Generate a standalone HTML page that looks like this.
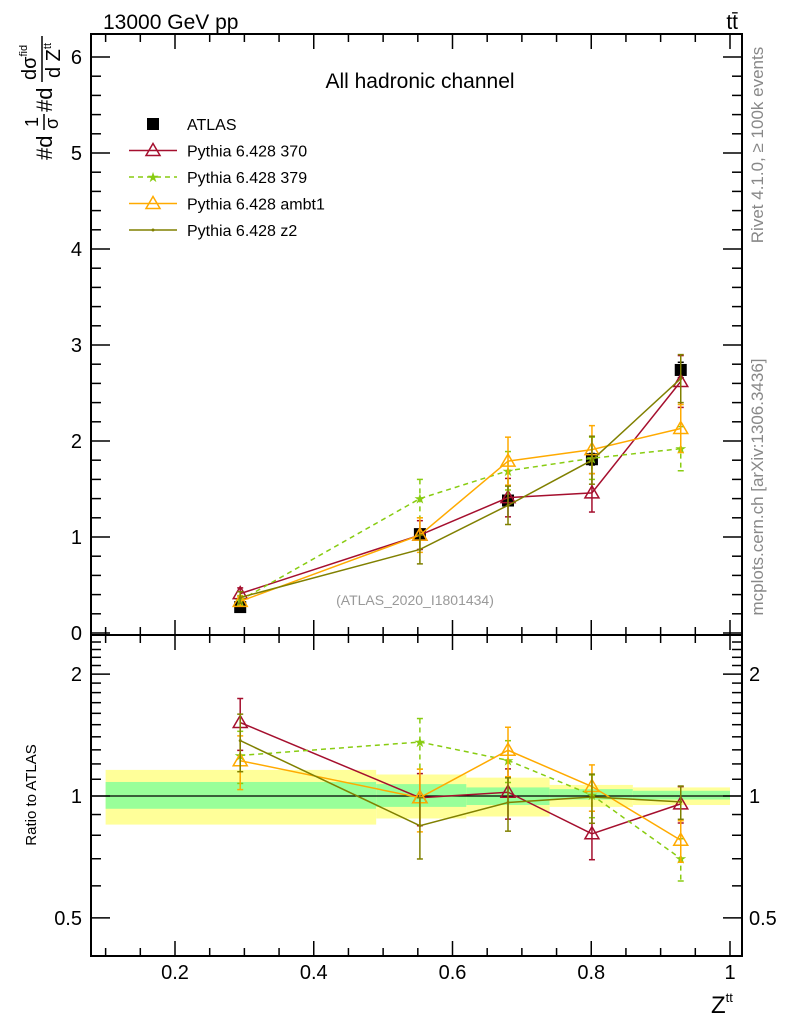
<!DOCTYPE html>
<html><head><meta charset="utf-8"><style>
body{margin:0;background:#fff;}
svg{display:block;font-family:"Liberation Sans",sans-serif;}
</style></head><body>
<svg id="chart" width="786" height="1024" viewBox="0 0 786 1024" xmlns="http://www.w3.org/2000/svg">
<g id="bands"></g>
<g id="ticks"></g>
<g id="series"></g>
<rect x="91" y="34" width="651" height="601" fill="none" stroke="#000" stroke-width="2"/>
<rect x="91" y="635" width="651" height="321" fill="none" stroke="#000" stroke-width="2"/>
<text x="103" y="29" font-size="21">13000 GeV pp</text>
<text x="738" y="29" font-size="21" text-anchor="end">tt̄</text>
<text x="420" y="88" font-size="21" text-anchor="middle">All hadronic channel</text>
<text x="415" y="605" font-size="14" fill="#999" text-anchor="middle">(ATLAS_2020_I1801434)</text>
<text transform="translate(763,145) rotate(-90)" font-size="17" fill="#888" text-anchor="middle">Rivet 4.1.0, ≥ 100k events</text>
<text transform="translate(763,487) rotate(-90)" font-size="17" fill="#888" text-anchor="middle">mcplots.cern.ch [arXiv:1306.3436]</text>
<g transform="translate(0,160) rotate(-90)">
<text x="0" y="52" font-size="22">#d</text>
<text x="33" y="38" font-size="18">1</text>
<line x1="30" y1="44" x2="46" y2="44" stroke="#000" stroke-width="1.5"/>
<text x="31" y="58" font-size="18">σ</text>
<text x="48" y="52" font-size="22">#d</text>
<text x="80" y="36" font-size="20">dσ<tspan font-size="11" dy="-9">fid</tspan></text>
<line x1="78" y1="42" x2="124" y2="42" stroke="#000" stroke-width="1.5"/>
<text x="82" y="60" font-size="20">d Z<tspan font-size="11" dy="-9">tt</tspan></text>
</g>
<text transform="translate(36,795) rotate(-90)" font-size="15" text-anchor="middle">Ratio to ATLAS</text>
<text x="711" y="1013" font-size="24">Z<tspan font-size="13" dy="-11">tt</tspan></text>
<g id="legend"></g>
</svg>
<script>
const xs = [0.294, 0.553, 0.68, 0.801, 0.929];
const atlas = [0.27, 1.03, 1.38, 1.81, 2.74];
const atlasErr = [0.02, 0.04, 0.05, 0.06, 0.08];
const p370 = [0.41, 1.02, 1.41, 1.46, 2.62];
const p370Err = [0.06, 0.15, 0.2, 0.2, 0.27];
const p379 = [0.34, 1.40, 1.69, 1.82, 1.92];
const p379Err = [0.05, 0.2, 0.2, 0.22, 0.23];
const pambt1 = [0.33, 1.02, 1.79, 1.91, 2.13];
const pambt1Err = [0.05, 0.18, 0.25, 0.25, 0.25];
const pz2 = [0.37, 0.87, 1.33, 1.80, 2.65];
const pz2Err = [0.06, 0.15, 0.2, 0.25, 0.25];
const binEdges = [0.1, 0.49, 0.62, 0.74, 0.86, 1.0];
const yellowHi = [1.16, 1.13, 1.11, 1.065, 1.05];
const yellowLo = [0.85, 0.88, 0.89, 0.94, 0.95];
const greenHi = [1.083, 1.07, 1.05, 1.04, 1.03];
const greenLo = [0.93, 0.94, 0.95, 0.98, 0.98];
const xTicks = [0.2, 0.4, 0.6, 0.8, 1];
const yTicks = [0, 1, 2, 3, 4, 5, 6];
const rTicks = [0.5, 1, 2];

const NS = 'http://www.w3.org/2000/svg';
const X = v => 175 + (v - 0.2) * 693.75;
const Y = v => 633 - v * 96;
const R = v => 796 - Math.log10(v) * 405;
function mk(parent, tag, attrs) {
  const e = document.createElementNS(NS, tag);
  for (const k in attrs) e.setAttribute(k, attrs[k]);
  parent.appendChild(e);
  return e;
}
const bands = document.getElementById('bands');
for (let i = 0; i < 5; i++) {
  const x0 = X(binEdges[i]), x1 = X(binEdges[i + 1]);
  const y = mk(bands, 'rect', {x: x0, y: R(yellowHi[i]), width: x1 - x0, height: R(yellowLo[i]) - R(yellowHi[i]), fill: '#ffff99'});
  
  
  const g = mk(bands, 'rect', {x: x0, y: R(greenHi[i]), width: x1 - x0, height: R(greenLo[i]) - R(greenHi[i]), fill: '#99ff99'});
  
  
}
const one = mk(bands, 'line', {x1: 91, x2: 742, y1: R(1), y2: R(1), stroke: '#000', 'stroke-width': 1.2});



const tk = document.getElementById('ticks');
function tl(x1, y1, x2, y2) { mk(tk, 'line', {x1, y1, x2, y2, stroke: '#000', 'stroke-width': 1.5}); }
for (let v = 0.1; v <= 1.0001; v += 0.05) {
  const x = X(v); const major = Math.abs(v * 10 - Math.round(v * 10)) < 0.01 && Math.round(v * 10) % 2 === 0;
  const L = major ? 14 : 7;
  tl(x, 35, x, 35 + L); tl(x, 634, x, 634 - L);
  tl(x, 955, x, 955 - L); tl(x, 636, x, 636 + L);
}
for (const v of xTicks) {
  const t = mk(tk, 'text', {x: X(v), y: 979, 'font-size': 20, 'text-anchor': 'middle'});
  t.textContent = String(v);
  
  
}
for (let v = 0; v <= 6.2; v += 0.2) {
  const y = Y(v); const major = Math.abs(v - Math.round(v)) < 0.01;
  const L = major ? 18 : 9;
  tl(92, y, 92 + L, y); tl(741, y, 741 - L, y);
}
for (const v of yTicks) {
  const t = mk(tk, 'text', {x: 82, y: Y(v) + 7, 'font-size': 20, 'text-anchor': 'end'});
  t.textContent = String(v);
  
  
}
for (let v = 0.4; v <= 2.45; v += 0.1) {
  const y = R(v); if (y < 636 || y > 955) continue;
  const major = rTicks.some(r => Math.abs(r - v) < 0.01);
  const L = major ? 18 : 9;
  tl(92, y, 92 + L, y); tl(741, y, 741 - L, y);
}
for (const v of rTicks) {
  const a = mk(tk, 'text', {x: 82, y: R(v) + 7, 'font-size': 20, 'text-anchor': 'end'});
  a.textContent = String(v);
  
  
  const b = mk(tk, 'text', {x: 749, y: R(v) + 7, 'font-size': 20});
  b.textContent = String(v);
  
  
}

const ser = document.getElementById('series');
function marker(g, kind, color, x, y) {
  if (kind === 'tri') mk(g, 'path', {d: `M${x},${y - 7} L${x + 7},${y + 5} L${x - 7},${y + 5} Z`, fill: 'none', stroke: color, 'stroke-width': 1.5});
  else if (kind === 'star') mk(g, 'text', {x, y: y + 5, 'font-size': 14, fill: color, 'text-anchor': 'middle'}).textContent = '★';
  else if (kind === 'dot') mk(g, 'circle', {cx: x, cy: y, r: 1.5, fill: color});
  else if (kind === 'sq') mk(g, 'rect', {x: x - 6, y: y - 6, width: 12, height: 12, fill: '#000'});
}
function drawSeries(name, vals, errs, color, kind, dash, ratio) {
  const g = mk(ser, 'g', {});
  
  
  const yf = ratio ? (v, i) => R(v / atlas[i]) : (v) => Y(v);
  const pts = vals.map((v, i) => X(xs[i]) + ',' + yf(v, i)).join(' ');
  if (kind !== 'sq') mk(g, 'polyline', {points: pts, fill: 'none', stroke: color, 'stroke-width': 1.5, 'stroke-dasharray': dash || 'none'});
  vals.forEach((v, i) => {
    const x = X(xs[i]);
    let y1 = yf(v + errs[i], i), y2 = yf(Math.max(v - errs[i], 0.01), i);
    y1 = Math.max(y1, ratio ? 636 : 35);
    mk(g, 'line', {x1: x, x2: x, y1, y2, stroke: color, 'stroke-width': 1.5, 'stroke-dasharray': dash || 'none'});
    mk(g, 'line', {x1: x - 3, x2: x + 3, y1, y2: y1, stroke: color, 'stroke-width': 1.5});
    mk(g, 'line', {x1: x - 3, x2: x + 3, y1: y2, y2: y2, stroke: color, 'stroke-width': 1.5});
    marker(g, kind, color, x, yf(v, i));
  });
}
const defs = [
  ['pythia-370', p370, p370Err, '#a50f2e', 'tri', null],
  ['pythia-379', p379, p379Err, '#88cc11', 'star', '5,4'],
  ['pythia-ambt1', pambt1, pambt1Err, '#ffaa00', 'tri', null],
  ['pythia-z2', pz2, pz2Err, '#808000', 'dot', null]
];
drawSeries('atlas-data', atlas, atlasErr, '#000', 'sq', null, false);
for (const d of defs) { drawSeries(d[0] + '-main', d[1], d[2], d[3], d[4], d[5], false); }
for (const d of defs) { drawSeries(d[0] + '-ratio', d[1], d[2], d[3], d[4], d[5], true); }

const lg = document.getElementById('legend');
const entries = [['ATLAS', '#000', 'sq', null], ['Pythia 6.428 370', '#a50f2e', 'tri', null], ['Pythia 6.428 379', '#88cc11', 'star', '5,4'], ['Pythia 6.428 ambt1', '#ffaa00', 'tri', null], ['Pythia 6.428 z2', '#808000', 'dot', null]];
entries.forEach((e, i) => {
  const y = 124 + i * 26.5;
  const g = mk(lg, 'g', {});
  
  
  if (e[2] !== 'sq') mk(g, 'line', {x1: 129, x2: 177, y1: y, y2: y, stroke: e[1], 'stroke-width': 1.5, 'stroke-dasharray': e[3] || 'none'});
  marker(g, e[2], e[1], 153, y);
  const t = mk(g, 'text', {x: 187, y: y + 6, 'font-size': 16});
  t.textContent = e[0];
});
</script>
</body></html>
